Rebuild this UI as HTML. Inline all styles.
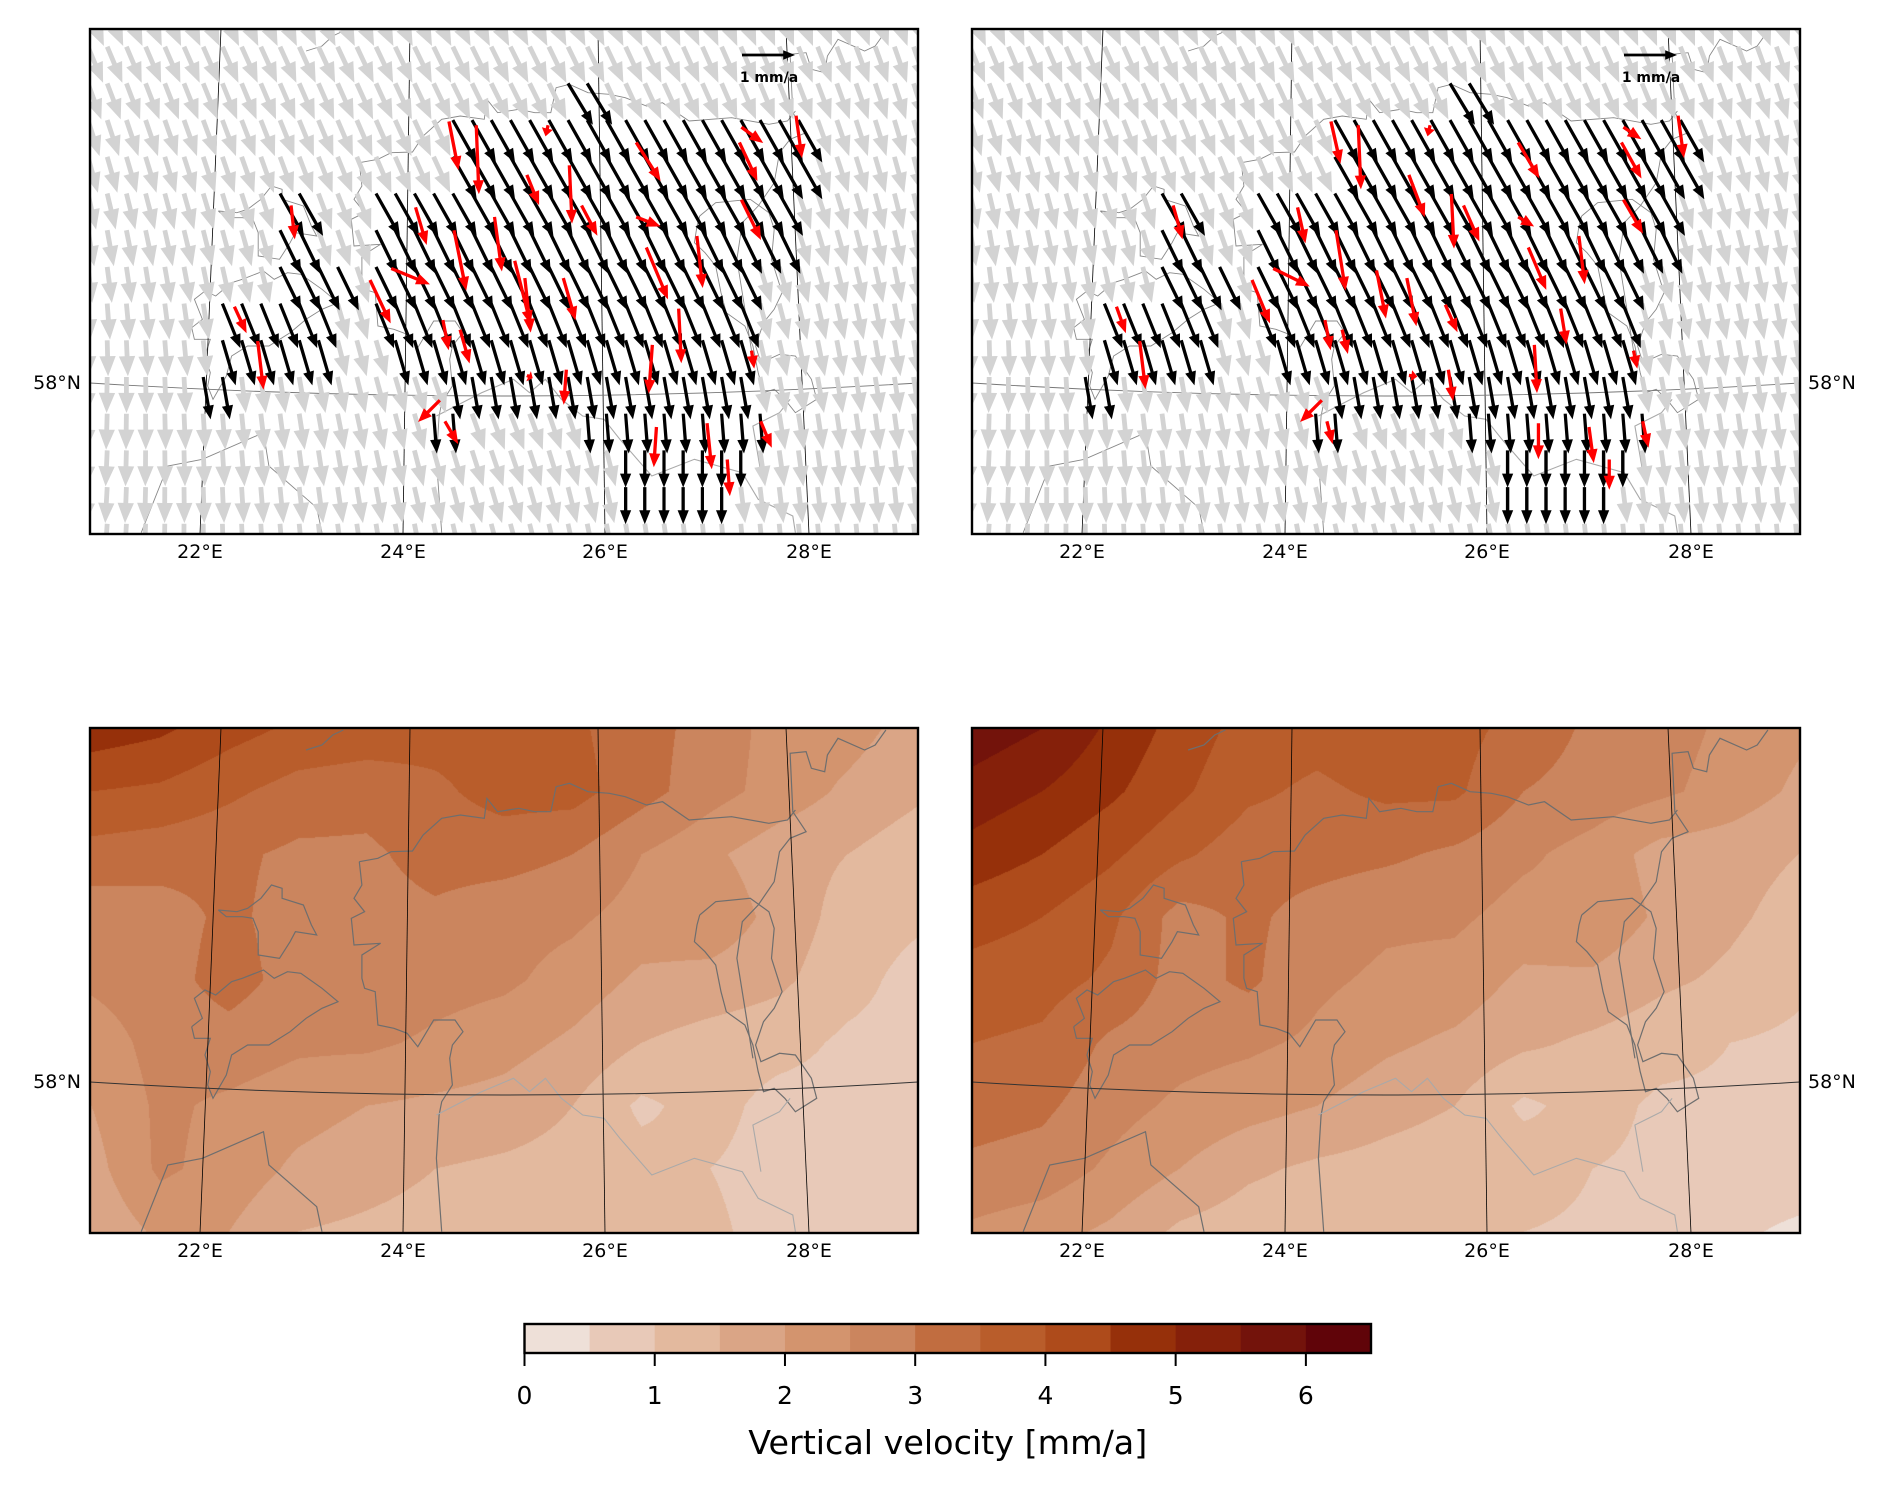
<!DOCTYPE html>
<html><head><meta charset="utf-8"><title>Velocity maps</title>
<style>
body{margin:0;background:#fff;width:1890px;height:1490px;overflow:hidden;position:relative}
canvas,svg{position:absolute;left:0;top:0}
text{font-family:"DejaVu Sans","Liberation Sans",sans-serif;fill:#000}
</style></head>
<body>
<canvas id="c1" style="left:91px;top:728px" width="826" height="504"></canvas>
<canvas id="c2" style="left:973px;top:728px" width="826" height="504"></canvas>
<svg id="s" width="1890" height="1490" xmlns="http://www.w3.org/2000/svg">
<defs>
<clipPath id="clipA"><rect x="90" y="29" width="828" height="505"/></clipPath>
<clipPath id="clipB"><rect x="972" y="29" width="828" height="505"/></clipPath>
<clipPath id="clipC"><rect x="90" y="728" width="828" height="505"/></clipPath>
<clipPath id="clipD"><rect x="972" y="728" width="828" height="505"/></clipPath>
</defs>
</svg>
<script>
// ---------- data ----------
const upliftLeft=[
[4.8,4.6,4.2,3.9,3.8,3.7,3.7,3.6,3.2,2.8,2.3,2.2,1.8],
[4.0,3.9,3.6,3.3,3.2,3.4,3.7,3.7,3.2,2.7,2.3,1.9,1.6],
[3.3,3.2,3.1,2.9,2.9,3.2,3.2,3.0,2.5,2.1,1.7,1.5,1.2],
[2.7,2.8,3.1,2.8,2.8,2.9,2.7,2.6,2.3,2.4,1.8,1.3,1.1],
[2.6,2.8,3.2,2.8,3.0,2.7,2.6,2.3,1.9,1.8,1.6,1.2,0.8],
[2.2,2.7,2.8,2.6,2.6,2.4,2.2,1.9,1.5,1.3,1.2,0.9,0.8],
[2.0,2.6,2.4,2.2,2.0,1.9,1.8,1.5,0.9,1.2,0.8,0.8,0.8],
[1.8,2.6,2.3,1.9,1.7,1.5,1.4,1.3,1.2,1.0,0.8,0.8,0.8],
[1.6,2.1,2.0,1.5,1.4,1.3,1.2,1.2,1.2,1.1,0.8,0.8,0.8]];
const upliftRight=[
[5.8,5.5,4.9,4.3,3.8,3.7,3.9,3.7,3.3,2.9,2.7,2.4,2.1],
[5.3,5.0,4.6,4.1,3.6,3.4,3.6,3.6,3.0,2.8,2.6,2.3,1.9],
[4.8,4.5,4.1,3.6,3.2,3.2,3.1,2.9,2.6,2.3,1.8,1.7,1.5],
[4.2,4.0,3.6,2.8,3.1,2.8,2.6,2.6,2.3,2.4,1.9,1.6,1.3],
[3.8,3.7,3.4,2.8,3.1,2.6,2.4,2.3,1.9,1.9,1.6,1.4,1.1],
[3.5,3.4,2.9,2.7,2.6,2.4,2.1,1.9,1.6,1.4,1.2,1.0,0.9],
[3.2,3.1,2.7,2.4,2.2,2.0,1.7,1.5,0.9,1.2,0.9,0.9,0.8],
[2.9,2.8,2.4,2.0,1.6,1.4,1.3,1.2,1.3,1.0,0.9,0.8,0.8],
[2.4,2.2,1.9,1.4,1.2,1.1,1.2,1.1,1.0,0.9,0.8,0.6,0.4]];
const levelColors=["#eee0d8","#e8c9b8","#e3b99e","#daa586","#d3946e","#cb855e","#c16d40","#b95d2b","#ae4b1b","#96300a","#85200a","#73130b","#600409"];
const cbTicks=[0,1,2,3,4,5,6];
const gridVE=[[0.30,0.32,0.34,0.30,0.24],[0.15,0.24,0.34,0.30,0.15],[-0.02,0.12,0.30,0.15,0.10],[-0.06,0.06,0.18,0.06,0.06]];
const gridVN=[[-0.68,-0.68,-0.68,-0.68,-0.68],[-0.68,-0.68,-0.68,-0.68,-0.68],[-0.68,-0.68,-0.68,-0.68,-0.68],[-0.68,-0.68,-0.68,-0.68,-0.68]];
const modelVE=[0.45,0.45,0.47,0.45,0.45,0.45,0.4,0.4,0.34,0.25,0.14,0.06,0.0,0.0,0.0];
const modelVN=[-0.8,-0.8,-0.78,-0.8,-0.8,-0.8,-0.82,-0.82,-0.84,-0.85,-0.8,-0.75,-0.7,-0.7,-0.7];
const landRows=[[],[],[[25.59,26.01]],[[24.45,27.93]],[[24.45,27.93]],[[23.68,27.87],[22.71,22.99]],[[23.63,27.73],[22.69,23.04]],[[23.63,27.53],[22.69,23.48]],[[23.68,27.43],[22.07,23.28]],[[23.88,27.43],[22.07,23.19]],[[24.37,27.53],[22.0,22.3]],[[24.27,24.67],[25.75,27.63]],[[26.15,27.53]],[[26.1,27.3]],[]];
const redLonL=[24.46,24.73,25.44,25.23,25.65,25.77,26.31,26.31,27.35,27.33,27.89,27.35,24.13,24.51,24.91,23.89,23.68,25.21,25.11,25.59,26.41,26.91,24.40,24.57,25.62,26.47,26.73,27.45,25.23,24.37,24.42,26.51,27.01,27.21,27.54,22.90,22.34,22.57];
const redLatL=[59.38,59.36,59.36,59.10,59.15,58.94,59.27,58.88,59.35,59.27,59.41,58.97,58.93,58.81,58.88,58.61,58.55,58.56,58.65,58.56,58.72,58.78,58.34,58.29,58.08,58.21,58.40,58.18,58.05,57.92,57.81,57.78,57.80,57.61,57.81,58.94,58.41,58.23];
const redVeL=[0.18,0.05,-0.05,0.23,0.05,0.30,0.46,0.46,0.41,0.34,0.11,0.37,0.21,0.23,0.14,0.73,0.39,0.11,0.30,0.23,0.41,0.11,0.11,0.18,-0.05,-0.07,0.05,0.05,0.11,-0.41,0.25,-0.05,0.09,0.05,0.21,0.07,0.23,0.11];
const redVnL=[-0.92,-1.30,-0.21,-0.57,-1.10,-0.57,-0.73,-0.18,-0.30,-0.73,-0.80,-0.76,-0.71,-1.14,-1.03,-0.30,-0.82,-1.03,-1.20,-0.80,-0.98,-0.98,-0.57,-0.64,-0.66,-0.92,-1.03,-0.34,-0.05,-0.41,-0.43,-0.76,-0.87,-0.69,-0.50,-0.64,-0.50,-0.92];
const redLonR=[24.46,24.73,25.44,25.23,25.65,25.77,26.31,26.31,27.35,27.33,27.89,27.35,24.13,24.51,24.91,23.89,23.68,25.21,25.59,26.41,26.91,24.40,24.57,25.62,26.47,26.73,27.45,25.23,24.37,24.42,26.51,27.01,27.21,27.54,22.90,22.34,22.57];
const redLatR=[59.38,59.36,59.36,59.10,59.00,58.94,59.27,58.88,59.35,59.27,59.41,58.97,58.93,58.81,58.60,58.61,58.55,58.56,58.42,58.72,58.78,58.34,58.29,58.08,58.21,58.40,58.18,58.05,57.92,57.81,57.80,57.78,57.61,57.81,58.94,58.41,58.23];
const redVeR=[0.18,0.05,-0.05,0.30,0.05,0.30,0.40,0.30,0.34,0.38,0.11,0.37,0.15,0.18,0.18,0.69,0.34,0.18,0.23,0.34,0.11,0.11,0.11,0.09,0.05,0.11,0.07,0.16,-0.41,0.11,0.0,0.09,0.0,0.11,0.18,0.18,0.11];
const redVnR=[-0.80,-1.21,-0.21,-0.80,-1.03,-0.68,-0.68,-0.18,-0.23,-0.68,-0.80,-0.64,-0.68,-1.14,-0.91,-0.34,-0.82,-0.91,-0.52,-0.80,-0.91,-0.57,-0.46,-0.59,-0.91,-0.68,-0.34,-0.02,-0.41,-0.43,-0.68,-0.68,-0.57,-0.50,-0.64,-0.50,-0.91];

// ---------- helpers ----------
const NS="http://www.w3.org/2000/svg";
const svg=document.getElementById('s');
function el(tag,attrs,parent){const e=document.createElementNS(NS,tag);for(const k in attrs)e.setAttribute(k,attrs[k]);(parent||svg).appendChild(e);return e;}
const PW=828,PH=505,PXPERMM=53;
const panels=[{x:90,y:29,c:'clipA'},{x:972,y:29,c:'clipB'},{x:90,y:728,c:'clipC'},{x:972,y:728,c:'clipD'}];
function lonX(lon,p){return p.x+110+(lon-22)*101.2;}
function latY(lat,p){return p.y+356-(lat-58)*191;}
function bilerp(g,u,v){const R=g.length-1,C=g[0].length-1;let fx=u*C,fy=v*R;let i=Math.min(Math.floor(fx),C-1),j=Math.min(Math.floor(fy),R-1);if(i<0)i=0;if(j<0)j=0;const tx=fx-i,ty=fy-j;return g[j][i]*(1-tx)*(1-ty)+g[j][i+1]*tx*(1-ty)+g[j+1][i]*(1-tx)*ty+g[j+1][i+1]*tx*ty;}
function arrowPoly(x,y,dx,dy,w){const L=Math.hypot(dx,dy);if(L<1)return null;const ux=dx/L,uy=dy/L,nx=-uy,ny=ux;let hl=Math.min(4.2*w,L*0.7);const hw=1.7*w,sw=w/2;const bx=x+ux*(L-hl),by=y+uy*(L-hl);
const pts=[[x+nx*sw,y+ny*sw],[bx+nx*sw,by+ny*sw],[bx+nx*hw,by+ny*hw],[x+dx,y+dy],[bx-nx*hw,by-ny*hw],[bx-nx*sw,by-ny*sw],[x-nx*sw,y-ny*sw]];
return pts.map(p=>p[0].toFixed(1)+','+p[1].toFixed(1)).join(' ');}

// ---------- contour panels ----------
function drawContour(id,grid){const cv=document.getElementById(id),ctx=cv.getContext('2d');const W=cv.width,H=cv.height;const img=ctx.createImageData(W,H);
const rgb=levelColors.map(h=>[parseInt(h.substr(1,2),16),parseInt(h.substr(3,2),16),parseInt(h.substr(5,2),16)]);
for(let y=0;y<H;y++)for(let x=0;x<W;x++){const v=bilerp(grid,x/(W-1),y/(H-1));let b=Math.floor(v/0.5);b=Math.max(0,Math.min(12,b));const o=(y*W+x)*4;img.data[o]=rgb[b][0];img.data[o+1]=rgb[b][1];img.data[o+2]=rgb[b][2];img.data[o+3]=255;}
ctx.putImageData(img,0,0);}
drawContour('c1',upliftLeft);
drawContour('c2',upliftRight);

// ---------- map decorations ----------
const coast=[
[[510,410],[545,400],[570,380],[610,378],[630,330],[665,280],[700,270],[745,280],[750,220],[770,260],[810,250],[840,260],[870,260],[880,185],[905,175],[940,200],[980,205],[1010,215],[1050,240],[1080,230],[1130,285],[1210,275],[1280,295],[1315,285],[1330,255]],
[[1150,570],[1180,530],[1245,520],[1280,560],[1290,610],[1285,700],[1305,800],[1290,850],[1270,890],[1255,960],[1265,1010],[1300,985],[1330,990],[1360,1060],[1370,1120],[1330,1160],[1310,1120],[1290,1090],[1270,1100],[1260,1040],[1250,960],[1235,900],[1200,860],[1190,800],[1180,720],[1160,680],[1140,650],[1145,600],[1150,570]],
[[510,410],[515,480],[500,520],[520,560],[495,580],[500,660],[550,655],[515,690],[515,760],[520,790],[540,800],[545,900],[575,910],[600,925],[620,965],[650,885],[690,885],[705,920],[685,960],[680,1000],[685,1080],[665,1130],[660,1170],[655,1300],[665,1520]],
[[195,905],[215,880],[200,820],[220,795],[240,810],[270,770],[290,760],[330,735],[350,760],[375,740],[400,745],[440,790],[470,830],[440,850],[410,880],[380,920],[340,960],[300,960],[270,990],[260,1050],[235,1120],[225,1080],[230,1040],[220,990],[230,940],[200,940],[195,905]],
[[245,555],[280,560],[300,550],[325,520],[345,480],[365,490],[365,520],[405,540],[420,600],[430,630],[390,620],[380,650],[360,700],[320,690],[320,620],[310,580],[290,575],[260,575],[245,555]],
[[410,75],[440,60],[460,30],[480,15]],
[[1500,15],[1480,60],[1460,75],[1410,40],[1390,90],[1385,140],[1360,130],[1350,80],[1320,85],[1325,260],[1350,320],[1320,340],[1300,380],[1290,470],[1260,540],[1230,590],[1220,700],[1240,900],[1250,1000]],
[[100,1520],[150,1320],[215,1300],[330,1220],[340,1320],[430,1445],[440,1520]]];
const border=[[[655,1170],[740,1100],[800,1060],[830,1100],[860,1060],[890,1120],[930,1170],[970,1180],[1000,1240],[1060,1350],[1140,1300],[1230,1340],[1260,1420],[1325,1470],[1330,1520]],[[1265,1340],[1250,1200],[1300,1160],[1320,1120]]];
const meridians=[[131,110],[320,313],[508,515],[696,719]];
const lonLabels=['22°E','24°E','26°E','28°E'];

panels.forEach((p,k)=>{
  const g=el('g',{'clip-path':'url(#'+p.c+')'});
  
  
  const top=k<2;
  coast.forEach(line=>{el('polyline',{points:line.map(q=>(p.x+q[0]/1.88-2).toFixed(1)+','+(p.y+q[1]/3-3).toFixed(1)).join(' '),fill:'none',stroke:top?'#888':'#6e6e6e','stroke-width':top?0.9:1.2,},g);});
  border.forEach(line=>{el('polyline',{points:line.map(q=>(p.x+q[0]/1.88-2).toFixed(1)+','+(p.y+q[1]/3-3).toFixed(1)).join(' '),fill:'none',stroke:'#a9a9a9','stroke-width':1.1,},g);});
  meridians.forEach(m=>{el('line',{x1:p.x+m[0],y1:p.y,x2:p.x+m[1],y2:p.y+PH,stroke:'#000','stroke-width':0.8,},g);});
  el('path',{d:`M${p.x},${p.y+354} Q${p.x+414},${p.y+380} ${p.x+PW},${p.y+354}`,fill:'none',stroke:top?'#777':'#333','stroke-width':top?0.9:1,},g);
  p.g=g;
});

// ---------- arrow fields ----------
function drawField(p,rLon,rLat,rVe,rVn){
  const g=el('g',{'clip-path':'url(#'+p.c+')'});
  
  
  for(let r=0;r<15;r++){
    const ty=p.y-19+36.7*r;
    for(let i=0;i<44;i++){
      const tx=p.x-2+19.2*i;
      const lon=22+(tx-p.x-110)/101.2;
      let land=landRows[r].some(rg=>lon>=rg[0]&&lon<=rg[1]);
      let ve,vn,col,w;
      if(land){ve=modelVE[r];vn=modelVN[r];col='#000';w=3.3;}
      else{const u=Math.max(0,Math.min(1,(tx-p.x)/PW)),v=Math.max(0,Math.min(1,(ty-p.y)/PH));ve=bilerp(gridVE,u,v);vn=bilerp(gridVN,u,v);col='#d3d3d3';w=4.8;}
      const pts=arrowPoly(tx,ty,ve*PXPERMM,-vn*PXPERMM,w);
      if(!pts)continue;
      const a=el('polygon',{points:pts,fill:col},g);
      
      
    }
  }
  g.querySelectorAll('polygon[fill="#000"]').forEach(n=>g.appendChild(n));
  for(let k=0;k<rLon.length;k++){
    const x=lonX(rLon[k],p),y=latY(rLat[k],p);
    const pts=arrowPoly(x,y,rVe[k]*PXPERMM,-rVn[k]*PXPERMM,3.3);
    if(!pts)continue;
    const a=el('polygon',{points:pts,fill:'#ff0000'},g);
    
    
  }
  const kx=p.x+652,ky=p.y+26;
  const key=el('polygon',{points:arrowPoly(kx,ky,PXPERMM,0,2.8),fill:'#000'});
  
  
  const kt=el('text',{x:kx+27,y:ky+27,'text-anchor':'middle','font-size':14,'font-weight':'bold'});
  kt.textContent='1 mm/a';
  
  
}
drawField(panels[0],redLonL,redLatL,redVeL,redVnL);
drawField(panels[1],redLonR,redLatR,redVeR,redVnR);

// ---------- frames and labels ----------
panels.forEach((p,k)=>{
  const f=el('rect',{x:p.x,y:p.y,width:PW,height:PH,fill:'none',stroke:'#000','stroke-width':2.4});
  
  
  meridians.forEach((m,j)=>{
    const t=el('text',{x:p.x+m[1],y:p.y+PH+24,'text-anchor':'middle','font-size':19});
    t.textContent=lonLabels[j];
    
    
  });
  const left=(k%2===0);
  const t=el('text',{x:left?p.x-9:p.x+PW+8,y:p.y+360,'text-anchor':left?'end':'start','font-size':19});
  t.textContent='58°N';
  
  
});

// ---------- colorbar ----------
const cbX0=524.5,cbX1=1371,cbY=1324,cbH=29,cbMax=6.5;
function cbx(v){return cbX0+(v/cbMax)*(cbX1-cbX0);}
const cb=el('g',{});


levelColors.forEach((c,i)=>{
  const r=el('rect',{x:cbx(i*0.5),y:cbY,width:cbx((i+1)*0.5)-cbx(i*0.5)+0.5,height:cbH,fill:c},cb);
  
  
});
el('rect',{x:cbX0,y:cbY,width:cbX1-cbX0,height:cbH,fill:'none',stroke:'#000','stroke-width':2.4},cb);
cbTicks.forEach(v=>{
  const l=el('line',{x1:cbx(v),y1:cbY+cbH,x2:cbx(v),y2:cbY+cbH+13,stroke:'#000','stroke-width':2},cb);
  
  
  const t=el('text',{x:cbx(v),y:1404,'text-anchor':'middle','font-size':25},cb);
  t.textContent=String(v);
  
  
});
const ct=el('text',{x:(cbX0+cbX1)/2,y:1454,'text-anchor':'middle','font-size':33,textLength:399,lengthAdjust:'spacingAndGlyphs'},cb);
ct.textContent='Vertical velocity [mm/a]';


</script>
</body></html>
